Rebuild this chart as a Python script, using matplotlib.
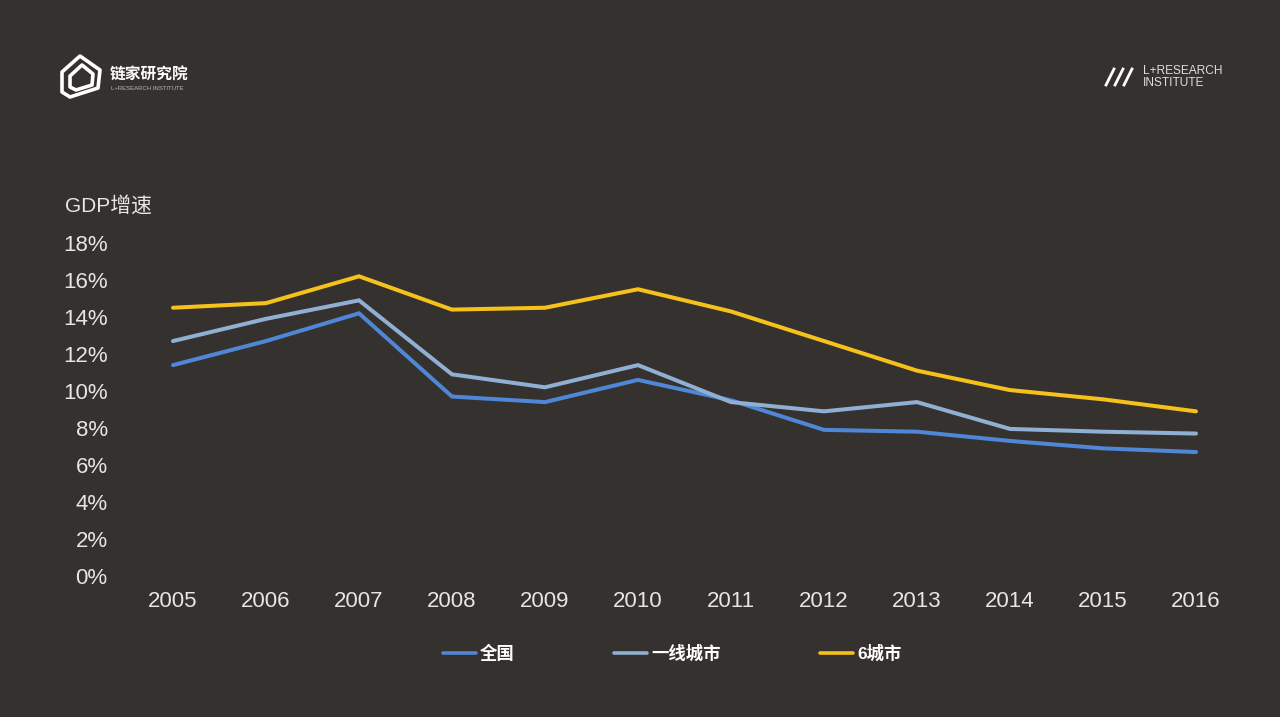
import matplotlib.pyplot as plt
from matplotlib.patches import Polygon
from matplotlib.lines import Line2D

plt.rcParams['font.family'] = ['Liberation Sans', 'Noto Sans CJK SC', 'DejaVu Sans']

years = [2005, 2006, 2007, 2008, 2009, 2010, 2011, 2012, 2013, 2014, 2015, 2016]
national = [11.4, 12.7, 14.2, 9.7, 9.4, 10.6, 9.5, 7.9, 7.8, 7.3, 6.9, 6.7]
tier1 = [12.7, 13.9, 14.9, 10.9, 10.2, 11.4, 9.4, 8.9, 9.4, 7.95, 7.8, 7.7]
six_cities = [14.5, 14.75, 16.2, 14.4, 14.5, 15.5, 14.3, 12.7, 11.1, 10.05, 9.55, 8.9]
series_names = ['全国', '一线城市', '6城市']
yticks = [0, 2, 4, 6, 8, 10, 12, 14, 16, 18]

bg = '#35312e'
colors = ['#4f86d6', '#8fb0d2', '#f4c21a']

W, H = 1280, 717
fig = plt.figure(figsize=(W / 100, H / 100), dpi=100, facecolor=bg)
ax = fig.add_axes([173 / W, (H - 576) / H, (1196 - 173) / W, (576 - 243) / H])
ax.set_facecolor(bg)

for vals, c, name in zip([national, tier1, six_cities], colors, series_names):
    ax.plot(years, vals, color=c, lw=2.9, solid_capstyle='round',
            solid_joinstyle='miter', clip_on=False, label=name)

ax.set_xlim(2005, 2016)
ax.set_ylim(0, 18)
ax.set_xticks(years)
ax.set_xticklabels([str(y) for y in years])
ax.set_yticks(yticks)
ax.set_yticklabels([f'{v}%' for v in yticks])
for s in ax.spines.values():
    s.set_visible(False)
ax.tick_params(axis='both', length=0, colors='#e6e6e6', labelsize=16)
ax.tick_params(axis='y', pad=47)
ax.tick_params(axis='x', pad=11)

fig.text(65 / W, 1 - 206 / H, 'GDP增速', color='#e6e6e6', fontsize=15,
         va='center', ha='left')

leg = fig.legend(loc='center', bbox_to_anchor=(672 / W, 1 - 653 / H), ncol=3,
                 frameon=False, handlelength=1.9, handletextpad=0.25,
                 columnspacing=5.7, prop={'size': 12.5, 'weight': 'bold'})
for t in leg.get_texts():
    t.set_color('white')
for h in leg.legend_handles:
    h.set_linewidth(2.6)

# logo top left
def fx(x):
    return x / W

def fy(y):
    return 1 - y / H

outer = [(62, 72), (80, 56), (100, 70), (98, 88), (70, 97), (62, 92)]
inner = [(70, 76), (82, 65), (93, 74), (92, 85), (76, 90), (70, 87)]
for pts in (outer, inner):
    fig.add_artist(Polygon([(fx(a), fy(b)) for a, b in pts], closed=True,
                           fill=False, edgecolor='white', lw=2.6,
                           joinstyle='round', transform=fig.transFigure))
fig.text(fx(110), fy(75), '链家研究院', color='white', fontsize=11.3,
         weight='bold', va='center', ha='left')
fig.text(fx(111), fy(88), 'L+RESEARCH INSTITUTE', color='#bbbbbb',
         fontsize=4.3, va='center', ha='left')

# logo top right
for i in range(3):
    x0 = 1106 + i * 9
    fig.add_artist(Line2D([fx(x0), fx(x0 + 8)], [fy(85), fy(69)],
                          color='white', lw=2, transform=fig.transFigure))
fig.text(fx(1143), fy(70.5), 'L+RESEARCH', color='#dddddd', fontsize=8.6,
         va='center', ha='left')
fig.text(fx(1143), fy(82.5), 'INSTITUTE', color='#dddddd', fontsize=8.6,
         va='center', ha='left')

fig.savefig('out.png', dpi=100, facecolor=bg)
